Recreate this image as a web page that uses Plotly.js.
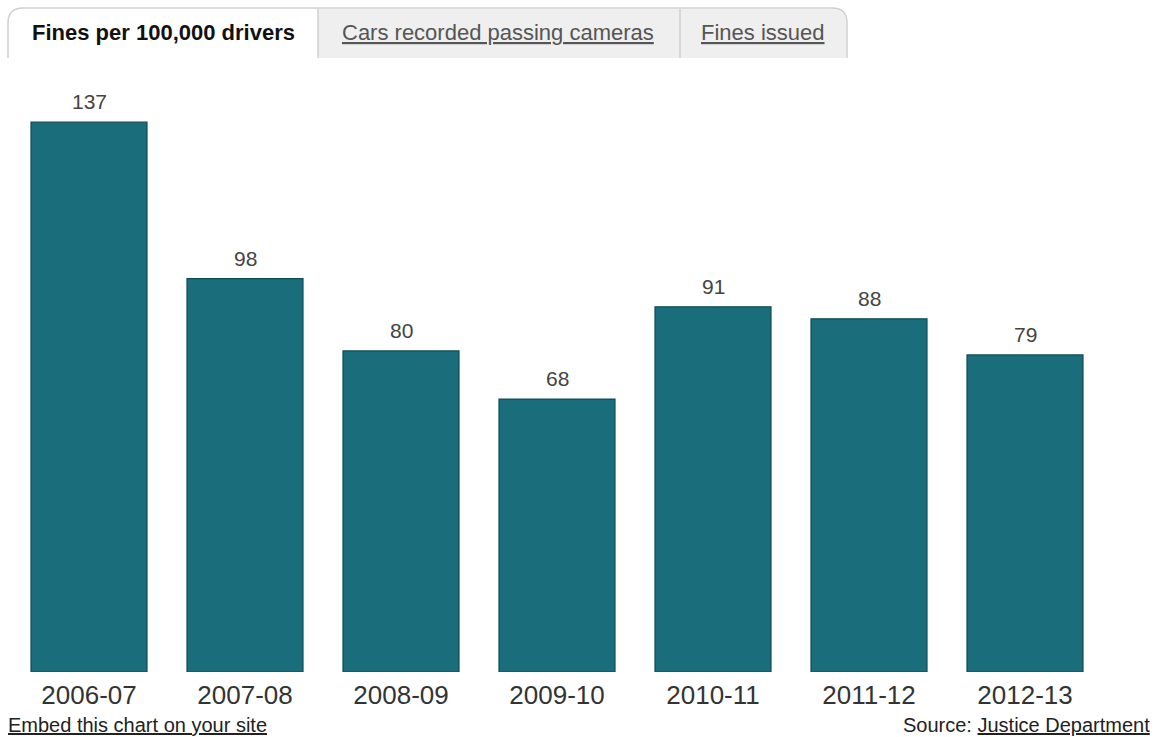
<!DOCTYPE html>
<html>
<head>
<meta charset="utf-8">
<script src="https://cdn.plot.ly/plotly-3.0.1.min.js"></script>
<style>
html,body{margin:0;padding:0;background:#fff;}
#chart{width:1154px;height:737px;}
</style>
</head>
<body>
<div id="chart"></div>
<script>
const years = ["2006-07","2007-08","2008-09","2009-10","2010-11","2011-12","2012-13"];
const finesPer100k = [137, 98, 80, 68, 91, 88, 79];
const tabLabels = ["Fines per 100,000 drivers", "Cars recorded passing cameras", "Fines issued"];
const embedText = "Embed this chart on your site";
const sourceLabel = "Source: ";
const sourceName = "Justice Department";

const W = 1154, H = 737;
const L = 11, R = 1103, T = 70, B = 672;
const px = x => (x - L) / (R - L);
const py = y => (B - y) / (B - T);

const font = "Liberation Sans, Arial, sans-serif";

const trace = {
  type: "bar",
  x: years,
  y: finesPer100k,
  marker: {color: "#1a6e7b", line: {color: "#0e4c56", width: 1.2}},
  hoverinfo: "x+y"
};

const annotations = years.map((c, i) => ({
  x: c, y: finesPer100k[i], xref: "x", yref: "y",
  text: String(finesPer100k[i]), showarrow: false,
  yanchor: "bottom", yshift: 7,
  font: {family: font, size: 21, color: "#444"}
}));

// tabs
const tabCenters = [163, 498, 763];
annotations.push({
  xref: "paper", yref: "paper", x: px(tabCenters[0]), y: py(33),
  text: "<b>" + tabLabels[0] + "</b>", showarrow: false, xanchor: "center", yanchor: "middle",
  font: {family: font, size: 22, color: "#111"}
});
for (let i = 1; i < 3; i++) {
  annotations.push({
    xref: "paper", yref: "paper", x: px(tabCenters[i]), y: py(33),
    text: '<span style="text-decoration:underline">' + tabLabels[i] + '</span>', showarrow: false,
    xanchor: "center", yanchor: "middle",
    font: {family: font, size: 22, color: "#555"}
  });
}
annotations.push({
  xref: "paper", yref: "paper", x: px(8), y: py(725), xshift: -2,
  text: '<span style="text-decoration:underline">' + embedText + '</span>', showarrow: false,
  xanchor: "left", yanchor: "middle",
  font: {family: font, size: 20, color: "#222"}
});
annotations.push({
  xref: "paper", yref: "paper", x: px(1150), y: py(725), xshift: 2,
  text: sourceLabel + '<span style="text-decoration:underline">' + sourceName + '</span>', showarrow: false,
  xanchor: "right", yanchor: "middle",
  font: {family: font, size: 20, color: "#222"}
});

function P(x, y) { return px(x).toFixed(5) + "," + py(y).toFixed(5); }
const shapes = [
  {type: "path", xref: "paper", yref: "paper",
   path: "M" + P(318, 58) + " L" + P(318, 9) + " L" + P(832, 9) + " Q" + P(846, 9) + " " + P(846, 23) + " L" + P(846, 58) + " Z",
   fillcolor: "#efefef", line: {width: 0}, layer: "below"},
  {type: "path", xref: "paper", yref: "paper",
   path: "M" + P(8, 58) + " L" + P(8, 23) + " Q" + P(8, 8) + " " + P(23, 8) + " L" + P(832, 8) + " Q" + P(847, 8) + " " + P(847, 23) + " L" + P(847, 58),
   line: {color: "#cfcfcf", width: 1.5}},
  {type: "line", xref: "paper", yref: "paper", x0: px(318), x1: px(318), y0: py(9), y1: py(58), line: {color: "#d0d0d0", width: 1.5}},
  {type: "line", xref: "paper", yref: "paper", x0: px(680), x1: px(680), y0: py(9), y1: py(58), line: {color: "#d0d0d0", width: 1.5}}
];

const layout = {
  width: W, height: H,
  margin: {l: L, r: W - R, t: T, b: H - B, pad: 0},
  paper_bgcolor: "#fff", plot_bgcolor: "#fff",
  bargap: 40 / 156,
  showlegend: false,
  xaxis: {
    type: "category", showgrid: false, zeroline: false, showline: false, ticks: "",
    ticklabelstandoff: 5,
    tickfont: {family: font, size: 26, color: "#333"}, fixedrange: true
  },
  yaxis: {range: [0, 150], visible: false, fixedrange: true},
  annotations: annotations,
  shapes: shapes
};

Plotly.newPlot("chart", [trace], layout, {displayModeBar: false, staticPlot: true});
</script>
</body>
</html>
